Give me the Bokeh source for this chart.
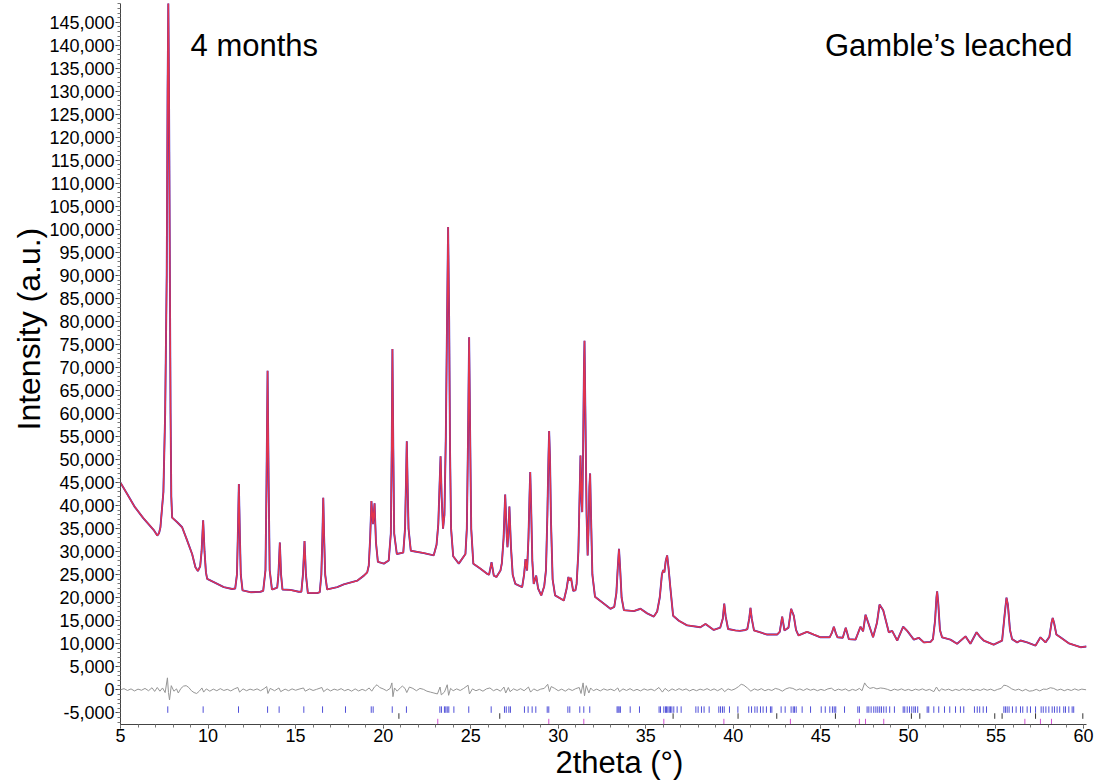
from bokeh.plotting import figure
from bokeh.models import Label, Title, SingleIntervalTicker, NumeralTickFormatter, Range1d
from bokeh.embed import file_html
from bokeh.resources import INLINE

# ---- calculated profile (2theta, intensity) ----
calc_tt = [5.00, 5.40, 5.80, 6.30, 6.90, 7.10, 7.20, 7.28, 7.45, 7.55, 7.64, 7.69, 7.73, 7.77, 7.82, 7.86, 7.90, 7.95,
           8.24, 8.52, 8.81, 9.09, 9.28, 9.42, 9.55, 9.63, 9.72, 9.80, 9.88, 9.95, 10.33, 10.90, 11.38,
           11.55, 11.65, 11.70, 11.76, 11.82, 11.87, 11.97, 12.42, 12.99, 13.15, 13.28, 13.34, 13.40, 13.46, 13.52, 13.65,
           13.76, 13.95, 14.02, 14.10, 14.17, 14.25, 14.71, 15.18, 15.33, 15.42, 15.51, 15.59, 15.70, 16.23,
           16.38, 16.47, 16.53, 16.58, 16.63, 16.69, 16.80, 17.38, 17.75, 18.52, 18.90, 19.09, 19.18, 19.26, 19.33,
           19.42, 19.51, 19.59, 19.70, 20.04, 20.32, 20.44, 20.49, 20.53, 20.58, 20.63, 20.78, 21.15, 21.25, 21.30,
           21.35, 21.40, 21.45, 21.58, 22.32, 22.89, 23.05, 23.15, 23.22, 23.28, 23.34, 23.42, 23.50, 23.58, 23.65,
           23.71, 23.77, 23.82, 23.88, 24.00, 24.32, 24.70, 24.78, 24.85, 24.91, 24.97, 25.03, 25.15, 25.56, 25.94,
           26.05, 26.19, 26.32, 26.47, 26.70, 26.78, 26.88, 26.97, 27.06, 27.10, 27.14, 27.21, 27.30, 27.40, 27.55,
           27.94, 28.05, 28.13, 28.22, 28.30, 28.36, 28.40, 28.45, 28.52, 28.60, 28.74, 28.85, 29.03, 29.20, 29.30,
           29.38, 29.44, 29.48, 29.53, 29.59, 29.68, 29.82, 30.32, 30.48, 30.58, 30.66, 30.73, 30.85, 30.98, 31.05,
           31.15, 31.22, 31.27, 31.33, 31.37, 31.42, 31.47, 31.50, 31.55, 31.62, 31.68, 31.73, 31.78, 31.82, 31.87,
           31.95, 32.10, 32.98, 33.20, 33.32, 33.40, 33.47, 33.54, 33.62, 33.75, 34.32, 34.70, 35.08, 35.46, 35.65,
           35.80, 35.92, 35.99, 36.06, 36.14, 36.22, 36.30, 36.40, 36.56, 36.89, 37.36, 38.12, 38.41, 38.88, 39.25,
           39.40, 39.48, 39.56, 39.70, 40.12, 40.37, 40.69, 40.80, 40.91, 40.98, 41.05, 41.18, 41.93, 42.50, 42.65,
           42.79, 42.92, 43.15, 43.30, 43.45, 43.58, 43.72, 44.21, 44.59, 44.98, 45.50, 45.62, 45.74, 45.86, 45.95,
           46.25, 46.42, 46.60, 46.98, 47.26, 47.41, 47.55, 47.64, 47.98, 48.20, 48.35, 48.56, 48.88, 49.07, 49.36,
           49.70, 49.93, 50.31, 50.59, 50.88, 51.26, 51.40, 51.52, 51.60, 51.64, 51.70, 51.80, 51.92, 52.40, 52.78,
           53.26, 53.54, 53.89, 54.09, 54.30, 54.87, 55.35, 55.50, 55.60, 55.68, 55.80, 55.92, 56.21, 56.40, 56.78,
           57.26, 57.54, 57.83, 58.05, 58.17, 58.24, 58.32, 58.45, 58.68, 59.16, 59.83, 60.17]
calc_int = [45000, 42400, 39800, 37300, 34700, 33500, 34000, 35300, 43000, 60000, 90000, 130000, 149500, 130000, 90000, 60000, 42000, 37400,
            36400, 35300, 32400, 29500, 26600, 25800, 26800, 30000, 36800, 30000, 25500, 24100, 23400, 22300, 21900,
            22000, 25000, 33000, 44700, 33000, 25000, 21600, 21200, 21300, 21500, 26000, 45000, 69300, 45000, 26000, 21800,
            21900, 22200, 25000, 32000, 25000, 21800, 21700, 21300, 21300, 25000, 32300, 25000, 21000, 21000,
            21200, 25000, 33000, 41700, 33000, 25000, 21800, 22300, 22900, 23700, 24800, 25500, 27000, 33000, 41000,
            36000, 40500, 32000, 27800, 27400, 28100, 34000, 52000, 74000, 52000, 34000, 29500, 29800, 35000, 44000,
            54000, 44000, 35000, 30200, 29700, 29200, 31500, 36000, 44000, 50700, 42000, 35000, 38000, 55000, 80000,
            100500, 80000, 52000, 35000, 29000, 27400, 29500, 35000, 55000, 76600, 55000, 35000, 27400, 26300, 25200,
            25000, 27700, 24800, 24500, 25900, 27500, 33000, 42400, 33500, 31000, 33000, 39800, 31000, 25000, 23000,
            22300, 25000, 28400, 25900, 33000, 42000, 47300, 40000, 28000, 23000, 24800, 22000, 20500, 22500, 26000,
            38000, 50000, 56200, 50000, 36000, 24000, 20500, 19400, 22000, 24500, 23700, 24300, 21500, 21600, 23000,
            30000, 42000, 50900, 41000, 38600, 52000, 70000, 75800, 60000, 38000, 29200, 35000, 44000, 47000, 38000,
            25000, 20200, 17600, 18000, 21000, 26500, 30600, 26000, 20000, 17300, 17100, 17600, 16600, 15900, 17000,
            20100, 25000, 26000, 25500, 28000, 29200, 26500, 22300, 16100, 15000, 14000, 13600, 14300, 13000, 13500,
            15500, 18700, 16000, 13200, 12900, 12800, 13000, 13200, 15500, 17800, 15500, 12900, 12000, 12000, 12600,
            15900, 12900, 13500, 17600, 16100, 13000, 11800, 12600, 12000, 11400, 11400, 12300, 13700, 12200, 11400,
            11300, 13500, 11000, 10900, 13700, 12700, 16300, 15300, 11400, 14500, 18500, 17300, 12500, 12800, 10700,
            13700, 12800, 10900, 11300, 10300, 10400, 11000, 15000, 20000, 21400, 19000, 13000, 11400, 10900, 10000,
            11600, 10000, 12500, 11500, 10700, 9800, 10700, 16500, 20000, 18500, 13000, 11000, 10300, 10700, 10300,
            9600, 11400, 10300, 11500, 14500, 15600, 14500, 12000, 11400, 10100, 9250, 9400]

# ---- difference curve (obs - calc) ----
diff_tt = [5.0, 5.2, 5.4, 5.6, 5.8, 6.0, 6.2, 6.4, 6.6, 6.8, 6.95, 7.1, 7.25, 7.4, 7.55, 7.68, 7.74, 7.8, 7.9, 8.05,
           8.2, 8.3, 8.45, 8.6, 8.75, 8.9, 9.05, 9.2, 9.35, 9.5, 9.65, 9.75, 9.9, 10.1, 10.3, 10.5, 10.7, 10.9, 11.1,
           11.3, 11.5, 11.7, 11.8, 12.0, 12.2, 12.4, 12.6, 12.8, 13.0, 13.2, 13.35, 13.42, 13.55, 13.8, 14.05, 14.15,
           14.4, 14.6, 14.8, 15.0, 15.2, 15.45, 15.55, 15.8, 16.0, 16.2, 16.5, 16.6, 16.8, 17.0, 17.2, 17.4, 17.6,
           17.8, 18.0, 18.2, 18.4, 18.6, 18.8, 19.0, 19.2, 19.35, 19.5, 19.65, 19.8, 20.0, 20.2, 20.4, 20.5, 20.56,
           20.65, 20.8, 21.0, 21.1, 21.25, 21.35, 21.5, 21.7, 21.9, 22.1, 22.3, 22.5, 22.7, 22.9, 23.1, 23.25, 23.32,
           23.5, 23.66, 23.74, 23.85, 24.0, 24.2, 24.4, 24.6, 24.85, 24.93, 25.1, 25.3, 25.5, 25.7, 25.9, 26.1, 26.3,
           26.5, 26.7, 26.9, 27.0, 27.15, 27.25, 27.45, 27.65, 27.85, 28.05, 28.3, 28.42, 28.6, 28.8, 29.0, 29.2,
           29.4, 29.5, 29.6, 29.8, 30.0, 30.2, 30.4, 30.6, 30.8, 31.0, 31.2, 31.3, 31.42, 31.5, 31.6, 31.75, 31.85,
           32.0, 32.2, 32.4, 32.6, 32.8, 33.0, 33.2, 33.4, 33.5, 33.7, 33.9, 34.1, 34.3, 34.5, 34.7, 34.9, 35.1,
           35.3, 35.5, 35.75, 35.95, 36.1, 36.3, 36.5, 36.7, 36.9, 37.1, 37.3, 37.5, 37.7, 37.9, 38.1, 38.3, 38.5,
           38.7, 38.9, 39.1, 39.35, 39.5, 39.7, 39.9, 40.1, 40.3, 40.45, 40.6, 40.8, 41.0, 41.2, 41.4, 41.6, 41.8,
           42.0, 42.2, 42.4, 42.6, 42.8, 43.0, 43.2, 43.4, 43.6, 43.8, 44.0, 44.2, 44.4, 44.6, 44.8, 45.0, 45.2,
           45.4, 45.6, 45.8, 46.0, 46.2, 46.4, 46.6, 46.8, 47.0, 47.2, 47.35, 47.5, 47.62, 47.8, 48.0, 48.2, 48.4,
           48.6, 48.8, 49.0, 49.2, 49.4, 49.6, 49.8, 50.0, 50.2, 50.4, 50.6, 50.8, 51.0, 51.2, 51.45, 51.6, 51.75,
           51.9, 52.1, 52.3, 52.5, 52.7, 52.9, 53.1, 53.3, 53.5, 53.7, 53.9, 54.1, 54.3, 54.5, 54.7, 54.9, 55.1,
           55.3, 55.45, 55.6, 55.75, 55.9, 56.1, 56.3, 56.5, 56.7, 56.9, 57.1, 57.3, 57.5, 57.7, 57.9, 58.1, 58.3,
           58.5, 58.7, 58.9, 59.1, 59.3, 59.5, 59.7, 59.9, 60.15]
diff_val = [0, 250, -150, 200, -250, 150, -100, 300, -200, 450, -350, 500, -300, 400, -600, 2600, -600, -2200, 900, -300,
            200, -700, 300, 800, 900, 500, -200, -600, -800, -300, 400, -500, 200, -300, 150, -200, 250, -150, 100,
            -250, 200, 500, -500, 200, -200, 150, -100, 200, -200, 250, 700, -800, 300, -200, 400, -400,
            150, -200, 200, -100, 150, 400, -300, 200, -150, 100, 500, -400, 200, -250, 150, -100, 250,
            -200, 100, -300, 200, -250, 100, -200, 400, -300, 600, 1100, 500, 200, -200, 300, 1500, -1500,
            400, -300, 500, 800, 300, -600, 600, 300, -200, 300, 100, -300, -500, -700, -900, 600, -1100,
            -500, 1100, -1200, 300, -200, 200, -150, 300, 1000, -900, 200, -200, 100, -300, 200, 400, -200,
            150, -300, 600, -700, 500, -400, 200, -150, 250, -200, 600, -500, 200, -200, 150, 300,
            1200, -400, 700, 300, -200, 150, -300, 200, -150, 250, 500, -800, 1500, -1300, 900, -700, 400,
            -200, 150, -250, 200, -100, 150, -200, 400, -400, 200, -150, 250, -200, 100, -250, 200, -100,
            150, -200, 500, -500, 300, -300, 200, -150, 250, -100, 200, -250, 100, -200, 150, -100, 250,
            -150, 200, -200, 300, -400, 200, -100, 200, 700, 1200, 1000, 400, -300, 200, -100, 250, -200,
            100, -150, 300, 100, -300, 200, 450, 300, -100, 200, -150, 250, -100, 150, -200, 100, -150,
            200, 350, -200, 150, -100, 200, -250, 100, -150, 300, -200, 1500, 800, 300, 500, 200, 400,
            300, 100, -200, 150, -100, 200, -150, 100, -200, 150, -100, 200, -150, 100, -400, 600, -300,
            200, -100, 150, -200, 100, -150, 200, -100, 150, -200, 100, -150, 200, -100, 150, -200, 100,
            300, 1000, 900, 600, 200, -100, 150, -250, 100, -300, -200, 100, -250, 150, 100, 450, 300,
            -100, 150, -200, 100, -150, 200, -100, 150, 0]

# ---- reflection positions of the three phases ----
phase1_ticks = [7.70, 9.72, 11.74, 13.40, 14.06, 15.47, 16.54, 17.85, 19.32, 19.43, 20.52, 21.33, 23.24, 23.33, 23.50,
                23.58, 23.66, 23.75, 24.04, 24.89, 26.17, 26.93, 27.03, 27.18, 27.27, 28.07, 28.28, 28.51, 28.72,
                29.37, 29.46, 30.55, 30.66, 31.23, 31.46, 31.80, 33.36, 33.42, 33.48, 33.55, 34.11, 34.64, 35.76,
                35.84, 36.03, 36.13, 36.18, 36.26, 36.34, 36.41, 36.49, 36.60, 36.79, 37.02, 37.86, 37.99, 38.18,
                38.33, 38.62, 39.17, 39.27, 39.38, 39.48, 39.78, 40.26, 40.88, 41.04, 41.23, 41.36, 41.55, 41.70,
                41.89, 42.12, 42.20, 42.73, 42.96, 43.30, 43.42, 43.49, 43.59, 43.93, 44.41, 45.02, 45.25, 45.51,
                45.66, 45.76, 45.85, 46.35, 47.11, 47.20, 47.64, 47.74, 47.87, 48.02, 48.14, 48.25, 48.36, 48.46,
                48.59, 48.73, 48.93, 49.20, 49.70, 49.79, 49.93, 50.06, 50.19, 50.31, 50.40, 50.53, 51.07, 51.16,
                51.45, 51.73, 52.06, 52.36, 52.69, 52.97, 53.16, 53.77, 53.93, 54.07, 54.27, 54.46, 55.45, 55.54,
                55.64, 55.75, 55.94, 56.15, 56.40, 56.53, 56.78, 56.97, 57.26, 57.58, 57.70, 57.85, 58.02, 58.21,
                58.34, 58.49, 58.64, 58.87, 58.97, 59.16, 59.35, 59.44]
phase2_ticks = [20.90, 26.66, 36.56, 40.27, 42.48, 45.83, 50.17, 50.65, 54.93, 55.35, 57.26, 59.96]
phase3_ticks = [23.12, 29.46, 31.46, 36.03, 39.46, 43.26, 47.20, 47.55, 48.59, 56.65, 57.54, 58.17]

FONT = "Liberation Sans"

p = figure(width=1102, height=784, x_range=Range1d(5, 60.17), y_range=Range1d(-7537, 149070),
           output_backend="svg", toolbar_location=None, title=None,
           min_border_left=120, min_border_right=16, min_border_top=3, min_border_bottom=60)
p.xgrid.visible = False
p.ygrid.visible = False
p.outline_line_color = None
p.background_fill_color = "white"

p.xaxis.ticker = SingleIntervalTicker(interval=5, num_minor_ticks=5)
p.yaxis.ticker = SingleIntervalTicker(interval=5000, num_minor_ticks=5)
p.yaxis.formatter = NumeralTickFormatter(format="0,0")
for ax in (p.xaxis[0], p.yaxis[0]):
    ax.major_tick_in = 0
    ax.minor_tick_in = 0
    ax.minor_tick_out = 3
    ax.axis_line_color = "#444444"
    ax.major_tick_line_color = "#444444"
    ax.minor_tick_line_color = "#777777"
    ax.major_label_text_font = FONT
    ax.major_label_text_font_size = "18px"
    ax.major_label_text_color = "black"
p.xaxis.major_tick_out = 4
p.xaxis.major_label_standoff = 0
p.yaxis.major_tick_out = 5
p.yaxis.major_label_standoff = 1

# observed (blue, underneath) and calculated (red)
p.line(calc_tt, calc_int, line_color="#2a2ad8", line_width=1.9)
p.line(calc_tt, calc_int, line_color="#e3354c", line_width=1.5)
# difference
p.line(diff_tt, diff_val, line_color="#959595", line_width=1)
# reflection markers
p.segment(x0=phase1_ticks, y0=-3600, x1=phase1_ticks, y1=-5000, line_color="#5050d8", line_width=1)
p.segment(x0=phase2_ticks, y0=-5100, x1=phase2_ticks, y1=-6300, line_color="#333333", line_width=1)
p.segment(x0=phase3_ticks, y0=-6300, x1=phase3_ticks, y1=-7537, line_color="#d050d0", line_width=1)

# panel texts
p.add_layout(Label(x=9.0, y=139900, text="4 months", text_font=FONT, text_font_size="31px",
                   text_color="black", text_baseline="alphabetic", text_align="left"))
p.add_layout(Label(x=59.37, y=139900, text="Gamble\u2019s leached", text_font=FONT, text_font_size="31px",
                   text_color="black", text_baseline="alphabetic", text_align="right"))

# axis titles
p.add_layout(Title(text="Intensity (a.u.)", align="left", offset=294, standoff=0, vertical_align="bottom",
                   text_font=FONT, text_font_size="32px", text_font_style="normal", text_color="black"), "left")
p.add_layout(Title(text="2theta (\u00b0)", align="left", offset=435, standoff=0, vertical_align="top",
                   text_font=FONT, text_font_size="31px", text_font_style="normal", text_color="black"), "below")

open("out.html", "w").write(file_html(p, INLINE))
